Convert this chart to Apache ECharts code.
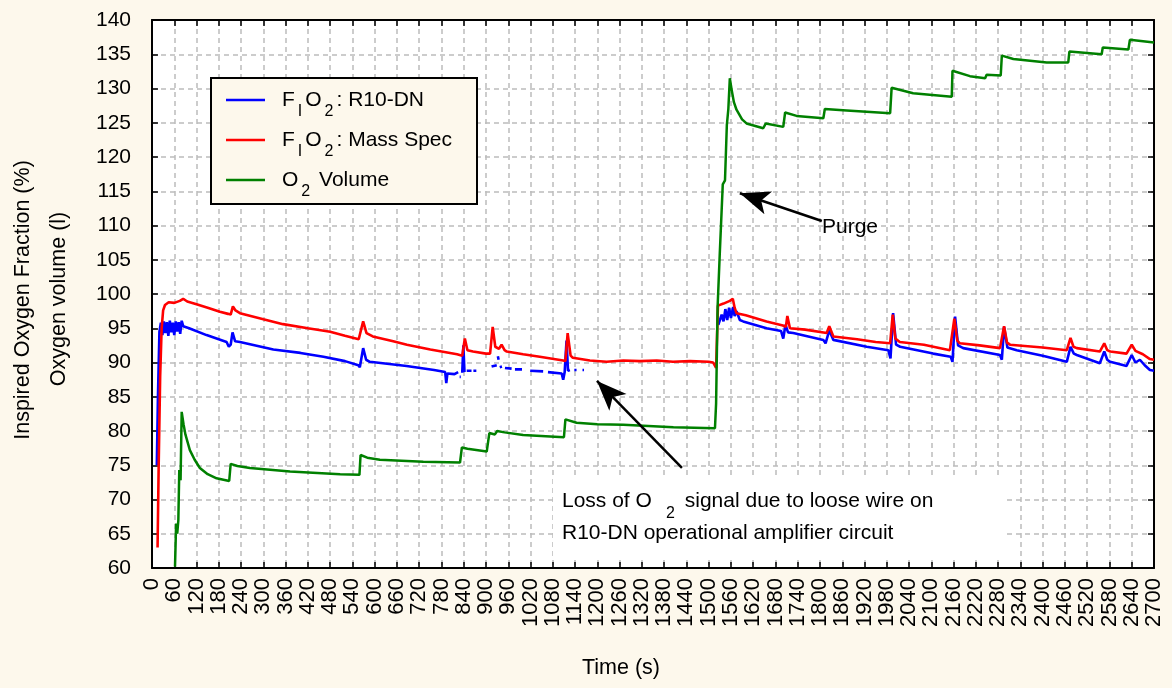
<!DOCTYPE html>
<html>
<head>
<meta charset="utf-8">
<script src="https://cdn.jsdelivr.net/npm/echarts@6/dist/echarts.min.js"></script>
<style>
html,body{margin:0;padding:0;background:#fdf8ec;}
#c{width:1172px;height:688px;}
</style>
</head>
<body>
<div id="c"></div>
<script>
// ---------- DATA (time in s, value) ----------
const seriesNames = ['FIO2: R10-DN', 'FIO2: Mass Spec', 'O2 Volume'];

const r10Points = [
  [13,75],[16,85],[20,94.5],[24,95.8],[28,94.0],[32,96.0],[36,94.3],[40,95.9],[44,93.9],[48,96.1],
  [52,94.4],[56,95.8],[60,94.0],[64,96.0],[68,94.5],[72,95.9],[76,94.2],[80,96.1],[84,95.3],[100,95.0],
  [147,94.0],[201,93.0],[207,92.3],[212,92.6],[217,94.4],[224,93.1],[237,93.0],[327,91.9],[400,91.4],
  [462,90.85],[520,90.2],[556,89.6],[560,89.3],[569,92.1],[577,90.4],[587,90.1],[686,89.5],[760,88.9],
  [790,88.6],[793,87.0],[796,88.4],[815,88.3],[825,88.6],[827,null],[829,87.9],[832,87.9],[833,null],
  [836,88.5],[839,92.5],[842,88.6],[844,null],[848,88.8],[861,88.8],[863,null],[866,88.8],[874,88.8],
  [880,null],[915,89.4],[929,89.6],[930,null],[932,90.9],[934,90.4],[935,null],[937,89.3],[943,89.4],
  [946,null],[951,89.2],[969,89.1],[972,null],[978,89.0],[997,89.0],[1005,null],[1019,88.8],[1054,88.7],
  [1060,null],[1067,88.6],[1104,88.4],[1108,87.5],[1112,88.6],[1117,93.2],[1121,88.8],[1126,88.9],
  [1130,null],[1138,88.9],[1144,88.9],[1150,null],[1160,88.9],[1164,88.9],[1170,null],
  [1526,95.5],[1535,97.0],[1540,96.0],[1545,97.8],[1550,96.2],[1555,98.0],[1560,96.5],[1566,98.1],
  [1570,96.8],[1575,97.5],[1584,96.2],[1593,96.0],[1656,95.0],[1695,94.6],[1701,93.5],[1707,95.5],
  [1714,94.4],[1728,94.3],[1809,93.3],[1815,92.8],[1825,94.7],[1836,93.3],[1926,92.3],[1984,91.8],
  [1990,90.6],[1997,97.2],[2005,92.6],[2016,92.3],[2105,91.3],[2152,90.85],[2157,90.1],[2164,96.7],
  [2172,92.5],[2186,92.1],[2285,91.1],[2290,90.4],[2296,95.2],[2305,92.2],[2330,91.8],[2400,91.0],
  [2465,90.1],[2475,92.3],[2484,91.3],[2492,91.1],[2554,89.9],[2566,91.6],[2574,90.4],[2582,90.1],
  [2626,89.5],[2640,91.1],[2650,90.0],[2662,90.4],[2675,89.6],[2689,88.9],[2700,88.8]
];

const massSpecPoints = [
  [15,63],[18,75],[22,88],[26,95],[30,97.6],[35,98.4],[45,98.8],[60,98.7],[75,99.0],[84,99.3],
  [95,98.9],[120,98.5],[150,98.0],[183,97.4],[205,97.1],[212,97.0],[218,98.2],[225,97.6],[237,97.2],
  [300,96.3],[353,95.6],[420,95.0],[480,94.5],[520,93.9],[557,93.4],[562,93.2],[569,96.0],[578,94.3],
  [595,93.8],[650,93.1],[687,92.6],[750,91.9],[822,91.2],[836,91.0],[843,93.5],[850,91.8],[865,91.6],
  [900,91.3],[911,91.3],[918,95.2],[925,92.3],[935,92.0],[942,92.6],[950,91.8],[956,91.6],[1000,91.2],
  [1045,90.85],[1108,90.3],[1114,90.2],[1120,94.3],[1128,91.0],[1134,90.7],[1180,90.3],[1225,90.1],
  [1270,90.3],[1315,90.2],[1360,90.3],[1404,90.1],[1450,90.2],[1500,90.1],[1512,90.0],[1520,89.2],
  [1525,98.3],[1540,98.6],[1557,99.0],[1565,99.3],[1570,98.0],[1575,97.2],[1600,96.9],[1656,96.0],
  [1700,95.4],[1708,95.2],[1712,96.8],[1719,95.0],[1760,94.8],[1818,94.3],[1825,95.3],[1836,93.8],
  [1900,93.4],[1950,93.0],[1989,92.8],[1996,97.0],[2003,93.5],[2015,93.0],[2080,92.6],[2150,91.8],
  [2162,96.4],[2170,93.2],[2177,92.8],[2230,92.5],[2285,92.1],[2296,95.3],[2304,92.9],[2312,92.6],
  [2400,92.2],[2465,91.8],[2475,93.6],[2483,92.3],[2492,92.1],[2554,91.6],[2566,92.8],[2574,91.8],
  [2582,91.6],[2626,91.3],[2640,92.6],[2650,91.7],[2670,91.2],[2689,90.5],[2700,90.4]
];

const o2VolumePoints = [
  [62,60.2],[65,66.5],[68,65.0],[71,67],[73.5,74.3],[77,72.8],[80,82.8],[85,81.0],[90,79.5],[102,77.2],
  [115,75.8],[129,74.6],[150,73.7],[174,73.1],[208,72.7],[212,75.2],[230,74.9],[264,74.6],[372,74.1],
  [507,73.7],[559,73.6],[562,76.5],[580,76.1],[614,75.8],[731,75.5],[830,75.4],[835,77.6],[850,77.4],
  [902,77.0],[906,77.0],[909,79.7],[924,79.5],[928,79.5],[930,80.0],[950,79.8],[1000,79.4],[1110,79.1],
  [1114,81.7],[1144,81.2],[1200,81.0],[1270,80.9],[1405,80.55],[1517,80.4],[1520,84],[1524,98],
  [1530,106],[1538,116],[1544,116.6],[1549,124.7],[1553,127],[1557,131.5],[1562,129.8],[1568,128.0],
  [1575,126.9],[1590,125.5],[1602,124.9],[1647,124.2],[1654,124.9],[1701,124.4],[1706,126.5],[1737,126.0],
  [1809,125.65],[1813,127.0],[1872,126.8],[1989,126.4],[1993,130.1],[2051,129.3],[2155,128.8],[2157,132.6],
  [2204,131.8],[2245,131.5],[2249,132.0],[2287,131.9],[2290,134.8],[2321,134.3],[2411,133.8],[2469,133.8],
  [2472,135.4],[2559,135.0],[2562,136.0],[2631,135.7],[2635,137.1],[2700,136.7]
];

// axis ranges / tick steps
const xRange = [0, 2700], xStep = 60;
const yRange = [60, 140], yStep = 5;

// annotation arrows: [tail, tip] in data units
const purgeArrow = [[1805, 110.66], [1584, 114.7]];
const lossArrow = [[1428, 74.6], [1199, 87.3]];

// ---------- STYLE ----------
const FONT = '"Liberation Sans", Arial, Helvetica, sans-serif';
const BG = '#fdf8ec';
const colors = ['#0000ff', '#ff0000', '#008000'];

const legendRich = {};
legendRich[seriesNames[0]] = '{g| }{n|F}{s|I}{n|O}{s|2}{n|: R10-DN}';
legendRich[seriesNames[1]] = '{g| }{n|F}{s|I}{n|O}{s|2}{n|: Mass Spec}';
legendRich[seriesNames[2]] = '{g| }{n|O}{s|2}{n| Volume}';

function axisCommon(extra) {
  return Object.assign({
    type: 'value',
    axisLine: { show: true, onZero: false, lineStyle: { color: '#000', width: 2 } },
    axisTick: { show: true, inside: true, length: 6, lineStyle: { color: '#000', width: 1.5 } },
    splitLine: { show: false },
    axisLabel: { show: false }
  }, extra);
}

const gridLine = { show: true, lineStyle: { color: '#bcbcbc', width: 1.5, type: [5, 4] } };

const chart = echarts.init(document.getElementById('c'));
const option = {
  backgroundColor: BG,
  animation: false,
  textStyle: { fontFamily: FONT },
  grid: {
    left: 152, right: 18, top: 20, bottom: 120,
    show: true, backgroundColor: '#ffffff', borderWidth: 0,
    containLabel: false, outerBoundsMode: 'none'
  },
  xAxis: [
    axisCommon({
      min: xRange[0], max: xRange[1], interval: xStep, position: 'bottom',
      splitLine: gridLine,
      axisLabel: { show: true, rotate: 90, margin: 10, fontSize: 22, color: '#000', fontFamily: FONT,
                   showMinLabel: true, showMaxLabel: true, hideOverlap: false,
                   formatter: v => String(v) }
    }),
    axisCommon({ min: xRange[0], max: xRange[1], interval: xStep, position: 'top' })
  ],
  yAxis: [
    axisCommon({
      min: yRange[0], max: yRange[1], interval: yStep, position: 'left',
      splitLine: gridLine,
      axisLabel: { show: true, margin: 21, fontSize: 21, color: '#000', fontFamily: FONT,
                   formatter: v => String(v) }
    }),
    axisCommon({ min: yRange[0], max: yRange[1], interval: yStep, position: 'right' })
  ],
  legend: {
    orient: 'vertical', left: 226, top: 80, padding: 0, itemGap: 0,
    itemWidth: 39, itemHeight: 2.5, selectedMode: false, icon: 'rect',
    data: seriesNames,
    formatter: n => legendRich[n],
    textStyle: {
      color: '#000', fontFamily: FONT,
      rich: {
        g: { width: 12, fontSize: 21, fontFamily: FONT, verticalAlign: 'middle' },
        n: { fontSize: 21, verticalAlign: 'middle', color: '#000', fontFamily: FONT },
        s: { fontSize: 16, lineHeight: 16, padding: [24, 3, 0, 3], verticalAlign: 'middle', color: '#000', fontFamily: FONT }
      }
    },
    z: 6
  },
  series: [
    {
      name: seriesNames[0], type: 'line', data: r10Points, symbol: 'none', connectNulls: false,
      lineStyle: { color: colors[0], width: 2.6 }, itemStyle: { color: colors[0] }, z: 2
    },
    {
      name: seriesNames[1], type: 'line', data: massSpecPoints, symbol: 'none',
      lineStyle: { color: colors[1], width: 2.6 }, itemStyle: { color: colors[1] }, z: 2
    },
    {
      name: seriesNames[2], type: 'line', data: o2VolumePoints, symbol: 'none',
      lineStyle: { color: colors[2], width: 2.5 }, itemStyle: { color: colors[2] }, z: 2,
      markLine: {
        silent: true, symbol: ['none', 'arrow'], symbolSize: [18, 30],
        lineStyle: { color: '#000', width: 2.5, type: 'solid' },
        itemStyle: { color: '#000' },
        label: { show: false },
        emphasis: { disabled: true },
        data: [
          [{ coord: purgeArrow[0] }, { coord: purgeArrow[1] }],
          [{ coord: lossArrow[0] }, { coord: lossArrow[1] }]
        ]
      }
    }
  ],
  graphic: [
    // legend frame
    { type: 'rect', z: 5, shape: { x: 211, y: 78, width: 266, height: 126 },
      style: { fill: BG, stroke: '#000', lineWidth: 2 } },
    // annotation box
    { type: 'rect', z: 5, shape: { x: 553, y: 476, width: 452, height: 81 },
      style: { fill: '#ffffff', stroke: null } },
    { type: 'text', z: 6, x: 562, y: 491,
      style: {
        text: '{n|Loss of O}{s|2}{n|signal due to loose wire on}',
        fill: '#000', align: 'left', verticalAlign: 'top',
        rich: {
          n: { fontSize: 21, lineHeight: 24, verticalAlign: 'top', fontFamily: FONT, fill: '#000' },
          s: { fontSize: 16, lineHeight: 16, padding: [15, 10, 0, 14], verticalAlign: 'top', fontFamily: FONT, fill: '#000' }
        }
      } },
    { type: 'text', z: 6, x: 562, y: 533,
      style: { text: 'R10-DN operational amplifier circuit', fontSize: 21, fontFamily: FONT, fill: '#000',
               align: 'left', verticalAlign: 'middle' } },
    { type: 'text', z: 6, x: 822, y: 227,
      style: { text: 'Purge', fontSize: 21, fontFamily: FONT, fill: '#000', align: 'left', verticalAlign: 'middle' } },
    // axis titles
    { type: 'text', z: 6, x: 23, y: 300, rotation: Math.PI / 2,
      style: { text: 'Inspired Oxygen Fraction (%)', fontSize: 21.5, fontFamily: FONT, fill: '#000',
               align: 'center', verticalAlign: 'middle' } },
    { type: 'text', z: 6, x: 59, y: 299, rotation: Math.PI / 2,
      style: { text: 'Oxygen volume (l)', fontSize: 21.5, fontFamily: FONT, fill: '#000',
               align: 'center', verticalAlign: 'middle' } },
    { type: 'text', z: 6, x: 621, y: 668,
      style: { text: 'Time (s)', fontSize: 21.5, fontFamily: FONT, fill: '#000',
               align: 'center', verticalAlign: 'middle' } }
  ]
};
chart.setOption(option);
</script>
</body>
</html>
